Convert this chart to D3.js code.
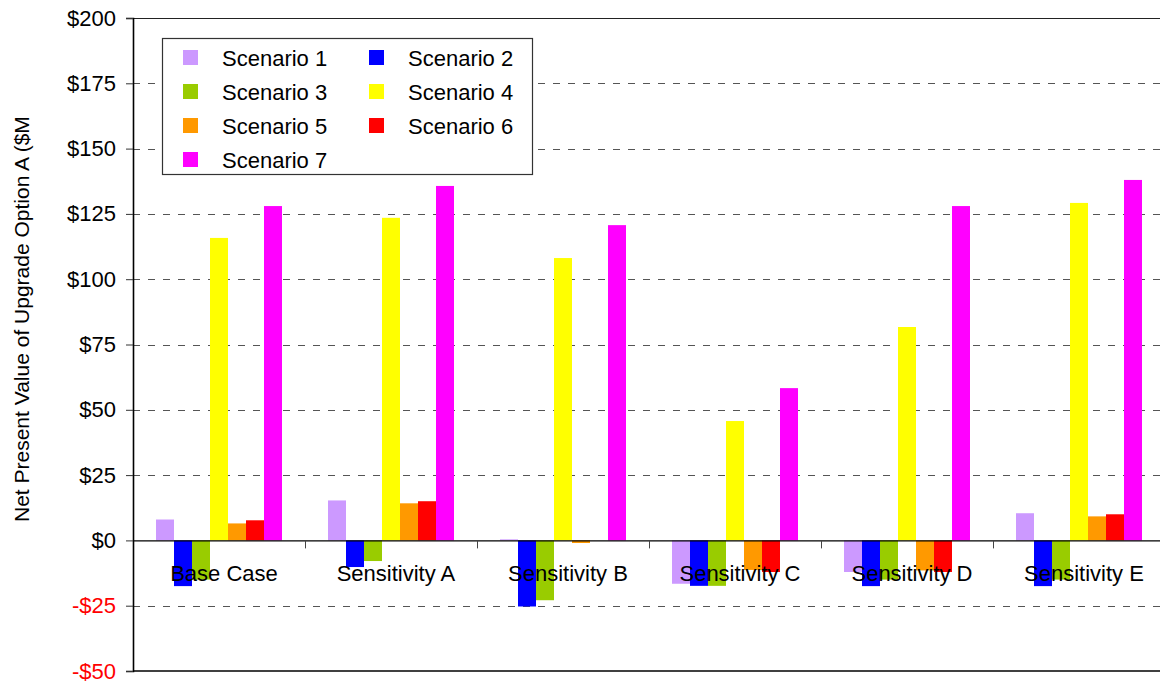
<!DOCTYPE html>
<html>
<head>
<meta charset="utf-8">
<script src="https://cdn.jsdelivr.net/npm/d3@7"></script>
<style>
  body { margin: 0; background: #fff; }
  svg { display: block; font-family: "Liberation Sans", Arial, sans-serif; }
</style>
</head>
<body>
<svg id="chart" width="1160" height="684"></svg>
<script>
var categories = ['Base Case', 'Sensitivity A', 'Sensitivity B', 'Sensitivity C', 'Sensitivity D', 'Sensitivity E'];
var seriesNames = ['Scenario 1', 'Scenario 2', 'Scenario 3', 'Scenario 4', 'Scenario 5', 'Scenario 6', 'Scenario 7'];
var seriesColors = ['#CC99FF', '#0000FF', '#99CC00', '#FFFF00', '#FF9900', '#FF0000', '#FF00FF'];

var scenario1 = [8, 15.3, 0.4, -16.6, -12.1, 10.4];
var scenario2 = [-17.5, -10.2, -25.3, -17.4, -17.5, -17.5];
var scenario3 = [-15, -7.9, -22.9, -17.4, -15, -15];
var scenario4 = [115.8, 123.5, 108.1, 45.7, 81.7, 129.2];
var scenario5 = [6.5, 14.2, -1, -11.3, -11.5, 9.2];
var scenario6 = [7.7, 15, 0, -12.1, -12.1, 10];
var scenario7 = [128, 135.7, 120.7, 58.3, 128, 138];

var yTicks = [-50, -25, 0, 25, 50, 75, 100, 125, 150, 175, 200];

var seriesValues = [scenario1, scenario2, scenario3, scenario4, scenario5, scenario6, scenario7];

var svg = d3.select('#chart');
var plotLeft = 133, plotRight = 1165, plotTop = 18, plotBottom = 671;

var y = d3.scaleLinear().domain([-50, 200]).range([plotBottom, plotTop]);
var x0 = d3.scaleBand().domain(categories).range([plotLeft, plotRight]);
var x1 = d3.scaleBand().domain(seriesNames).range([23, x0.bandwidth() - 23]);

// gridlines
svg.append('g')
  .selectAll('line')
  .data(yTicks.filter(function(d){ return d != 0 && d != -50 && d != 200; }))
  .enter().append('line')
    .attr('x1', plotLeft).attr('x2', 1160)
    .attr('y1', function(d){ return Math.round(y(d)) + 0.5; })
    .attr('y2', function(d){ return Math.round(y(d)) + 0.5; })
    .attr('stroke', '#555')
    .attr('stroke-dasharray', '7,8');

// plot border top and bottom
svg.append('line').attr('x1', plotLeft).attr('x2', 1160).attr('y1', plotTop + 0.5).attr('y2', plotTop + 0.5)
  .attr('stroke', '#222').attr('stroke-width', 1.2);
svg.append('line').attr('x1', plotLeft).attr('x2', 1160).attr('y1', plotBottom).attr('y2', plotBottom)
  .attr('stroke', '#000').attr('stroke-width', 1.6);

// bars
var groups = svg.append('g').selectAll('g')
  .data(categories)
  .enter().append('g')
    .attr('transform', function(d){ return 'translate(' + x0(d) + ',0)'; });

groups.selectAll('rect')
  .data(function(d, i){
    return seriesNames.map(function(s, j){ return {name: s, value: seriesValues[j][i], color: seriesColors[j]}; });
  })
  .enter().append('rect')
    .attr('x', function(d){ return x1(d.name); })
    .attr('width', x1.bandwidth())
    .attr('y', function(d){ return Math.min(y(d.value), y(0)); })
    .attr('height', function(d){ return Math.abs(y(d.value) - y(0)); })
    .attr('fill', function(d){ return d.color; });

// zero (category) axis
svg.append('line').attr('x1', plotLeft).attr('x2', 1160).attr('y1', y(0) + 0.5).attr('y2', y(0) + 0.5)
  .attr('stroke', '#000').attr('stroke-width', 1.2);
svg.append('g').selectAll('line')
  .data(categories.slice(1))
  .enter().append('line')
    .attr('x1', function(d){ return Math.round(x0(d)) + 0.5; })
    .attr('x2', function(d){ return Math.round(x0(d)) + 0.5; })
    .attr('y1', y(0)).attr('y2', y(0) + 8)
    .attr('stroke', '#444');

// category labels
svg.append('g').selectAll('text')
  .data(categories)
  .enter().append('text')
    .attr('x', function(d){ return x0(d) + x0.bandwidth() / 2 + 5; })
    .attr('y', 581)
    .attr('text-anchor', 'middle')
    .attr('font-size', 22)
    .attr('fill', '#000')
    .text(function(d){ return d; });

// y axis
var yAxis = d3.axisLeft(y)
  .tickValues(yTicks)
  .tickSize(7)
  .tickPadding(10)
  .tickFormat(function(d){ return (d < 0 ? '-$' : '$') + Math.abs(d); });

var ya = svg.append('g')
  .attr('transform', 'translate(' + plotLeft + ',0)')
  .call(yAxis);
ya.select('.domain').attr('stroke', '#000').attr('stroke-width', 1.6);
ya.selectAll('.tick line').attr('stroke', '#333');
ya.selectAll('.tick text')
  .attr('font-size', 22)
  .attr('font-family', '"Liberation Sans", Arial, sans-serif')
  .attr('fill', function(d){ return d < 0 ? '#FF0000' : '#000'; });

// axis title, clipped at the top like the original
svg.append('clipPath').attr('id', 'titleClip')
  .append('rect').attr('x', 0).attr('y', 118).attr('width', 60).attr('height', 560);
svg.append('g')
  .attr('clip-path', 'url(#titleClip)')
  .append('text')
    .attr('transform', 'translate(29,522) rotate(-90)')
    .attr('font-size', 21)
    .attr('fill', '#000')
    .text('Net Present Value of Upgrade Option A ($M)');

// legend
var legend = svg.append('g');
legend.append('rect')
  .attr('x', 162.5).attr('y', 38.5).attr('width', 370).attr('height', 136)
  .attr('fill', '#fff').attr('stroke', '#333').attr('stroke-width', 1.2);

var items = legend.selectAll('g.item')
  .data(seriesNames)
  .enter().append('g')
    .attr('class', 'item')
    .attr('transform', function(d, i){
      return 'translate(' + (i % 2 == 0 ? 183 : 369) + ',' + (50 + Math.floor(i / 2) * 34) + ')';
    });
items.append('rect')
  .attr('width', 15).attr('height', 15)
  .attr('fill', function(d, i){ return seriesColors[i]; });
items.append('text')
  .attr('x', 39).attr('y', 15.5)
  .attr('font-size', 22)
  .attr('fill', '#000')
  .text(function(d){ return d; });
</script>
</body>
</html>
